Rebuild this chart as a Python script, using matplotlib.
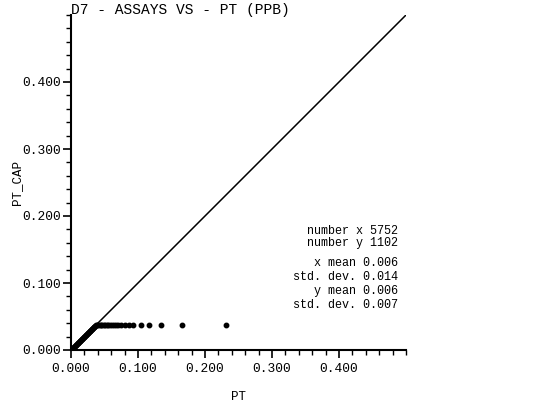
import matplotlib
matplotlib.use("Agg")
import matplotlib.pyplot as plt
from matplotlib.ticker import MultipleLocator, FormatStrFormatter

# Data
diag_x = [0.000, 0.001, 0.002, 0.003, 0.004, 0.005, 0.006, 0.007, 0.008, 0.009,
          0.010, 0.011, 0.012, 0.013, 0.014, 0.015, 0.016, 0.017, 0.018, 0.019,
          0.020, 0.021, 0.022, 0.023, 0.024, 0.025, 0.026, 0.027, 0.028, 0.029,
          0.030, 0.031, 0.032, 0.033, 0.034, 0.035, 0.036]
diag_y = [0.000, 0.001, 0.002, 0.003, 0.004, 0.005, 0.006, 0.007, 0.008, 0.009,
          0.010, 0.011, 0.012, 0.013, 0.014, 0.015, 0.016, 0.017, 0.018, 0.019,
          0.020, 0.021, 0.022, 0.023, 0.024, 0.025, 0.026, 0.027, 0.028, 0.029,
          0.030, 0.031, 0.032, 0.033, 0.034, 0.035, 0.036]
cap_x = [0.037, 0.039, 0.041, 0.043, 0.045, 0.047, 0.049, 0.051, 0.053, 0.055,
         0.058, 0.061, 0.064, 0.067, 0.070, 0.075, 0.080, 0.086, 0.093, 0.104,
         0.117, 0.135, 0.165, 0.231]
cap_y = [0.037] * len(cap_x)
ref_line = [0.0, 0.5]

stats_lines = ["number x 5752", "number y 1102"]
stats_lines2 = ["x mean 0.006", "std. dev. 0.014", "y mean 0.006", "std. dev. 0.007"]

title = "D7 - ASSAYS VS - PT (PPB)"
xlabel = "PT"
ylabel = "PT_CAP"

plt.rcParams['font.family'] = ['Liberation Mono', 'DejaVu Sans Mono']

W, H = 554, 408
L, R, T, B = 71, 406, 15, 350
fig = plt.figure(figsize=(W/100, H/100), dpi=100)
ax = fig.add_axes([L/W, 1-B/H, (R-L)/W, (B-T)/H])
AW, AH = R - L, B - T

def ax_x(px):
    return (px - L) / AW

def ax_y(py):
    return (B - py) / AH

ax.plot(ref_line, ref_line, color='black', lw=1.1, zorder=2)
ax.plot(diag_x, diag_y, 'o', color='black', ms=3.2, zorder=3)
ax.plot(cap_x, cap_y, 'o', color='black', ms=3.2, zorder=3)

ax.set_xlim(0, 0.5)
ax.set_ylim(0, 0.5)
ax.spines['top'].set_visible(False)
ax.spines['right'].set_visible(False)
ax.spines['left'].set_linewidth(1.5)
ax.spines['bottom'].set_linewidth(1.5)

ax.xaxis.set_minor_locator(MultipleLocator(0.02))
ax.yaxis.set_minor_locator(MultipleLocator(0.02))
ax.set_xticks([0.0, 0.1, 0.2, 0.3, 0.4])
ax.set_yticks([0.0, 0.1, 0.2, 0.3, 0.4])
ax.xaxis.set_major_formatter(FormatStrFormatter('%.3f'))
ax.yaxis.set_major_formatter(FormatStrFormatter('%.3f'))
ax.tick_params(axis='both', which='major', length=6, width=1.2, labelsize=9.3, pad=3)
ax.tick_params(axis='both', which='minor', length=3.5, width=1.0)
ax.tick_params(axis='y', which='major', pad=1)

ax.text(0.0, ax_y(14), title, transform=ax.transAxes, ha='left', va='baseline', fontsize=10.5)
ax.text(0.5, ax_y(397), xlabel, transform=ax.transAxes, ha='center', va='center', fontsize=9)
ax.text(ax_x(17), ax_y(183), ylabel, transform=ax.transAxes, ha='center', va='center',
        rotation=90, fontsize=9)

for i, s in enumerate(stats_lines):
    ax.text(ax_x(398), ax_y(231 + 12.5*i), s, transform=ax.transAxes,
            ha='right', va='center', fontsize=8.5)
for i, s in enumerate(stats_lines2):
    ax.text(ax_x(398), ax_y(263 + 14*i), s, transform=ax.transAxes,
            ha='right', va='center', fontsize=8.5)

fig.savefig("out.png", dpi=100)
